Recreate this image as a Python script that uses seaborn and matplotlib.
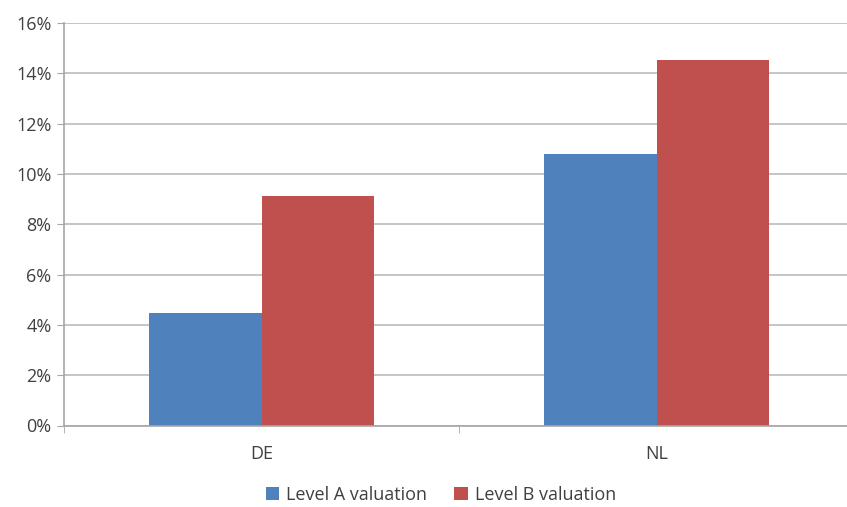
import numpy as np
import pandas as pd
import seaborn as sns
import matplotlib.pyplot as plt
from matplotlib.ticker import FuncFormatter, FixedLocator

# values (percent)
countries = ["DE", "NL"]
level_a = [4.49, 10.78]
level_b = [9.13, 14.53]
series_names = ["Level A valuation", "Level B valuation"]
series_colors = ["#4F81BD", "#C0504D"]

df = pd.DataFrame({
    "country": countries * 2,
    "series": [series_names[0]] * 2 + [series_names[1]] * 2,
    "value": level_a + level_b,
})

sns.set_style("white")
plt.rcParams["font.family"] = ["Open Sans", "DejaVu Sans"]

fig = plt.figure(figsize=(8.47, 5.07), dpi=100)
ax = fig.add_axes([64 / 847, 1 - 425.5 / 507, (854 - 64) / 847, (425.5 - 23) / 507])

sns.barplot(data=df, x="country", y="value", hue="series", palette=series_colors,
            width=0.57, saturation=1, linewidth=0, ax=ax, legend=True)

grey = "#A6A6A6"
text_col = "#404040"
ax.set_ylim(0, 16)
ax.set_xlim(-0.5, 1.5)
ax.set_yticks(np.arange(0, 17, 2))
ax.yaxis.set_major_formatter(FuncFormatter(lambda v, p: f"{v:.0f}%"))
ax.grid(axis="y", color="#C0C0C0", linewidth=1.3)
ax.set_axisbelow(True)
for s in ["top", "right"]:
    ax.spines[s].set_visible(False)
for s in ["left", "bottom"]:
    ax.spines[s].set_color(grey)
    ax.spines[s].set_linewidth(1.2)

ax.tick_params(axis="y", which="major", length=5, color=grey, labelsize=13,
               labelcolor=text_col, pad=4, left=True)
ax.tick_params(axis="x", which="major", length=0, labelsize=13,
               labelcolor=text_col, pad=14)
ax.xaxis.set_minor_locator(FixedLocator([-0.5, 0.5, 1.5]))
ax.tick_params(axis="x", which="minor", length=5, color=grey, bottom=True)
ax.set_xlabel("")
ax.set_ylabel("")

handles, labels = ax.get_legend_handles_labels()
ax.legend_.remove()
fig.legend(handles, labels, loc="center", bbox_to_anchor=(441 / 847, 1 - 495 / 507),
           ncol=2, frameon=False, fontsize=13, handlelength=0.75, handleheight=0.75,
           handletextpad=0.4, columnspacing=1.5, labelcolor=text_col)

fig.savefig("out.png", dpi=100)
